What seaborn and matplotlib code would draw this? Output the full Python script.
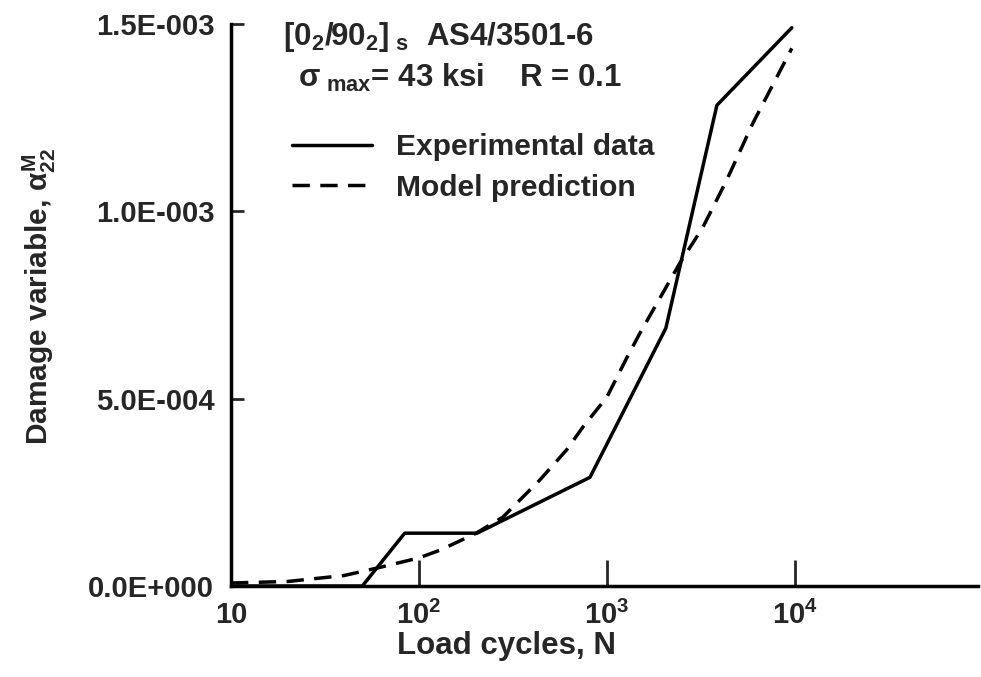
import matplotlib
matplotlib.use("Agg")
import matplotlib.pyplot as plt
import seaborn as sns
import pandas as pd

# Data
exp_cycles = [10, 50, 84, 204, 813, 2060, 3850, 9640]
exp_damage = [0.0, 0.0, 1.41e-4, 1.41e-4, 2.90e-4, 6.88e-4, 1.283e-3, 1.49e-3]

model_cycles = [10, 20, 40, 60, 100, 130, 200, 280, 440, 610, 745, 1000, 1280,
                1500, 1760, 2440, 3240, 4340, 5980, 9640]
model_damage = [0.8e-5, 1.2e-5, 2.8e-5, 4.8e-5, 7.5e-5, 9.6e-5, 1.4e-4, 1.84e-4,
                2.83e-4, 3.63e-4, 4.24e-4, 5.04e-4, 6.1e-4, 6.75e-4, 7.36e-4,
                8.61e-4, 9.57e-4, 1.083e-3, 1.235e-3, 1.435e-3]

xticks = [10, 100, 1000, 10000]
xtick_labels = ["10", r"$10^{2}$", r"$10^{3}$", r"$10^{4}$"]
yticks = [0.0, 5e-4, 1e-3, 1.5e-3]
ytick_labels = ["0.0E+000", "5.0E-004", "1.0E-003", "1.5E-003"]

sns.set_style("ticks")
plt.rcParams["font.family"] = ["Liberation Sans", "DejaVu Sans"]
plt.rcParams["font.weight"] = "bold"
plt.rcParams["mathtext.fontset"] = "custom"
plt.rcParams["mathtext.rm"] = "Liberation Sans:bold"
plt.rcParams["mathtext.it"] = "Liberation Sans:bold"
plt.rcParams["mathtext.bf"] = "Liberation Sans:bold"

FS = 21

fig = plt.figure(figsize=(9.81, 6.77), dpi=100)
ax = fig.add_axes([231/981, 1-586/677, 747/981, (586-24)/677])

df_exp = pd.DataFrame({"N": exp_cycles, "alpha": exp_damage})
df_mod = pd.DataFrame({"N": model_cycles, "alpha": model_damage})

sns.lineplot(data=df_exp, x="N", y="alpha", ax=ax, color="black", lw=2.5,
             label="Experimental data", sort=False)
sns.lineplot(data=df_mod, x="N", y="alpha", ax=ax, color="black", lw=2.5,
             linestyle=(0, (5, 3.0)), label="Model prediction", sort=False)

ax.set_xscale("log")
ax.set_xlim(10, 10**4.975)
ax.set_ylim(0, 1.5e-3)
ax.set_xticks(xticks)
ax.set_xticklabels(xtick_labels)
ax.set_yticks(yticks)
ax.set_yticklabels(ytick_labels)
ax.minorticks_off()
ax.tick_params(axis="x", direction="in", length=19, width=2, labelsize=FS, pad=11)
ax.tick_params(axis="y", direction="in", length=9, width=2, labelsize=FS, pad=12)
for lab in ax.get_xticklabels() + ax.get_yticklabels():
    lab.set_fontweight("bold")

for s in ["top", "right"]:
    ax.spines[s].set_visible(False)
for s in ["left", "bottom"]:
    ax.spines[s].set_linewidth(2.5)
    ax.spines[s].set_color("black")

ax.set_xlabel("Load cycles, N", fontsize=22.5, fontweight="bold")
ax.xaxis.set_label_coords(0.369, -0.08)
ax.set_ylabel(r"Damage variable, $\alpha^{\mathrm{M}}_{22}$", fontsize=21.5,
              fontweight="bold")
ax.yaxis.set_label_coords(-0.232, 0.515)

fig.text(283/981, 1-45/677, r"[0$_{2}$/90$_{2}$]$_{\ \mathrm{s}}$  AS4/3501-6",
         fontsize=22.5, fontweight="bold", va="baseline")
fig.text(298/981, 1-87/677, r"σ$_{\ \mathrm{max}}$= 43 ksi    R = 0.1",
         fontsize=22.5, fontweight="bold", va="baseline")

leg = ax.legend(loc="upper left", bbox_to_anchor=(292/981, 1-133/677),
                bbox_transform=fig.transFigure, frameon=False, fontsize=21.6,
                handlelength=2.65, handletextpad=0.82, labelspacing=0.42,
                borderaxespad=0, borderpad=0.0)
for t in leg.get_texts():
    t.set_fontweight("bold")

fig.savefig("out.png", dpi=100)
